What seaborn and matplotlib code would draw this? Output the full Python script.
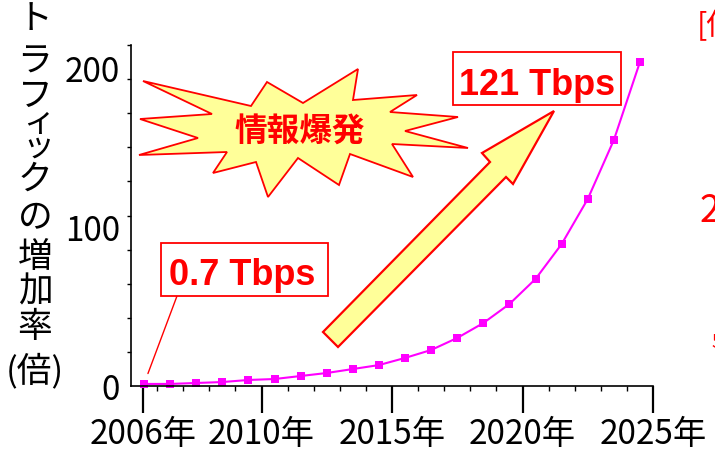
import numpy as np
import pandas as pd
import matplotlib
matplotlib.use('Agg')
import matplotlib.pyplot as plt
from matplotlib.patches import Polygon, Rectangle
import seaborn as sns

# data: traffic growth ratio per year
years  = list(range(2006, 2026))
ratio  = [1.3, 1.3, 1.9, 2.5, 3.8, 4.4, 6.3, 8.2, 10.7, 13.2,
          17.7, 22.7, 30.3, 39.7, 51.7, 67.5, 89.5, 117.9, 155.1, 204.3]
xtick_labels = ['2006年', '2010年', '2015年', '2020年', '2025年']
ytick_labels = ['0', '100', '200']
ylabel_chars = ['ト', 'ラ', 'フ', 'ィ', 'ッ', 'ク', 'の', '増', '加', '率', '(倍)']
start_label = '0.7 Tbps'
end_label   = '121 Tbps'
burst_label = '情報爆発'

sns.set_theme(style='ticks')
plt.rcParams['font.family'] = ['Noto Sans CJK JP', 'DejaVu Sans']

W, H = 715, 463
RED, YEL = '#FF0000', '#FFFF99'

def ff(px, py):
   # image pixel -> figure fraction
   return (px / W, 1 - py / H)

fig = plt.figure(figsize=(7.15, 4.63), dpi=100)
ax = fig.add_axes([131 / W, 1 - 386 / H, 522 / W, 341 / H])

df = pd.DataFrame({'year': [y - 0.5 for y in years], 'ratio': ratio})
sns.lineplot(data=df, x='year', y='ratio', ax=ax, color='#FF00FF', lw=1.5,
             marker='s', markersize=5.6, markeredgewidth=0, clip_on=False)

ax.set_xlim(2005, 2025)
ax.set_ylim(0, 215)
ax.set_xticks([2005.45, 2010, 2015, 2020, 2025], xtick_labels, fontsize=24)
ax.set_xticks(range(2006, 2025), minor=True)
ax.set_yticks([0, 100, 200], ytick_labels, fontsize=24)
ax.set_yticks(np.linspace(0, 215, 11), minor=True)
ax.tick_params(axis='x', which='major', length=19.5, width=1.6, pad=3, colors='black')
ax.tick_params(axis='x', which='minor', length=3.5, width=1, colors='black')
ax.tick_params(axis='y', which='major', length=0, pad=8, colors='black')
ax.tick_params(axis='y', which='minor', length=3, width=1, colors='black')
sns.despine(ax=ax)
for s in ['left', 'bottom']:
   ax.spines[s].set_color('black')
   ax.spines[s].set_linewidth(1.2)
ax.set_xlabel('')
ax.set_ylabel('')

# vertical y label, one character per line
ylab_y = [19, 62, 96, 122, 147, 180, 219, 257, 292, 328, 371]
ylab_x = [35, 35, 35, 39, 38, 35, 35, 35, 35, 35, 35]
ylab_fs = [25, 25, 25, 23, 23, 25, 25, 25, 25, 25, 25]
for ch, px, py, fs in zip(ylabel_chars, ylab_x, ylab_y, ylab_fs):
   fig.text(*ff(px, py), ch, fontsize=fs, ha='center', va='center', color='black')

# explosion shape
star = [(143, 81), (251, 106), (267, 82), (303, 103), (358, 69), (353, 100),
        (417, 95), (390, 112), (458, 117), (405, 131), (468, 148), (392, 144),
        (413, 177), (350, 154), (339, 185), (298, 158), (268, 197), (256, 162),
        (213, 173), (227, 152), (139, 155), (198, 138), (140, 119), (212, 114)]
fig.add_artist(Polygon([ff(*p) for p in star], closed=True, fc=YEL, ec=RED,
                       lw=1.3, transform=fig.transFigure))
fig.text(*ff(300, 132), burst_label, fontsize=23.5, fontweight='bold', color=RED,
         ha='center', va='center')

# big arrow
arrow = [(323, 332), (490, 162), (482, 153), (554, 111), (513, 184),
         (506, 177), (338, 347)]
fig.add_artist(Polygon([ff(*p) for p in arrow], closed=True, fc=YEL, ec=RED,
                       lw=1.6, transform=fig.transFigure))

# label boxes
def label_box(x0, y0, x1, y1, text, bx, by):
   fx0, fy1 = ff(x0, y1)
   fx1, fy0 = ff(x1, y0)
   fig.add_artist(Rectangle((fx0, fy1), fx1 - fx0, fy0 - fy1, fc='white', ec=RED,
                            lw=1.3, transform=fig.transFigure))
   fig.text(*ff(bx, by), text, fontsize=26, fontweight='bold', color=RED,
            family='Liberation Sans', ha='center', va='baseline')

label_box(453, 52, 621, 105, end_label, 537, 95)
label_box(161, 243, 328, 296, start_label, 242, 285)

ax.annotate('', xy=(df['year'][0], df['ratio'][0]), xycoords='data',
            xytext=ff(177, 296), textcoords='figure fraction',
            arrowprops=dict(arrowstyle='-', color=RED, lw=1, shrinkA=0, shrinkB=8))

# cut-off text from neighbouring panel
fig.text(*ff(697, 26), '[倍', fontsize=22, color=RED, ha='left', va='center')
fig.text(*ff(700, 211), '2', fontsize=27, color=RED, ha='left', va='center')
fig.text(*ff(711, 343), '5', fontsize=14, color=RED, ha='left', va='center')

fig.savefig('out.png', dpi=100)
